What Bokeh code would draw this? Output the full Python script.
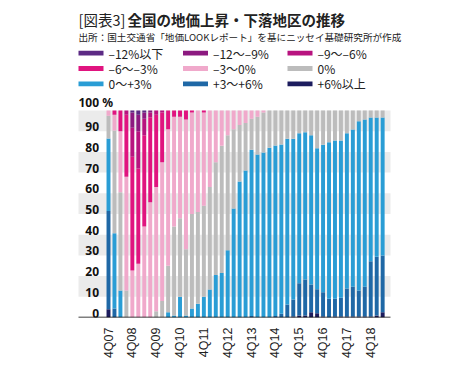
import math
from bokeh.plotting import figure
from bokeh.models import ColumnDataSource, Range1d, FixedTicker
from bokeh.embed import file_html
from bokeh.resources import INLINE
from bokeh.core.properties import value

# ---------------- data ----------------
quarters = ["4Q07",
            "1Q08", "2Q08", "3Q08", "4Q08",
            "1Q09", "2Q09", "3Q09", "4Q09",
            "1Q10", "2Q10", "3Q10", "4Q10",
            "1Q11", "2Q11", "3Q11", "4Q11",
            "1Q12", "2Q12", "3Q12", "4Q12",
            "1Q13", "2Q13", "3Q13", "4Q13",
            "1Q14", "2Q14", "3Q14", "4Q14",
            "1Q15", "2Q15", "3Q15", "4Q15",
            "1Q16", "2Q16", "3Q16", "4Q16",
            "1Q17", "2Q17", "3Q17", "4Q17",
            "1Q18", "2Q18", "3Q18", "4Q18",
            "1Q19", "2Q19"]

up6 = [4, 0, 0, 0, 0, 0, 0, 0, 0, 0,
       0, 0, 0, 0, 0, 0, 0, 0, 0, 0,
       0, 0, 0, 0, 0, 0, 0, 0, 0, 0,
       0, 0.5, 1, 1, 2.5, 2, 0.5, 0, 0.5, 0.5,
       0.5, 0.5, 0.5, 0.5, 0.5, 1, 2.5]
up3_6 = [47.5, 4.3, 0, 0, 0, 0, 0, 0, 0, 0,
         0, 0, 0, 0, 0, 0, 0, 0, 0, 0,
         0, 0, 0, 0, 0.7, 0, 0, 0, 0.7, 1.8,
         6.3, 8.2, 15.5, 17.4, 13.5, 11.7, 11.7, 9, 8.5, 9,
         13.5, 14.3, 12.6, 14.3, 26.7, 28.3, 27.5]
up0_3 = [35, 36.4, 13, 0, 0, 0, 0, 0, 0, 0,
         2.5, 1, 10, 1, 4.3, 6.7, 10, 13.5, 20.5, 21.5,
         32.5, 52.6, 65.7, 71, 80.3, 78.7, 79.7, 82, 82.4, 81.8,
         80, 77.6, 72.5, 71.1, 72, 68.1, 71.2, 75.7, 76.5, 76,
         75, 76, 81.7, 80.8, 69.4, 67.3, 66.6]
flat0 = [11, 49.6, 47.5, 13, 0, 0, 0, 0, 3, 8,
         22.5, 43, 38, 32, 45.7, 44.3, 44, 49.5, 54.5, 61.5,
         55.5, 38.4, 27.3, 23, 15, 18.3, 19.3, 18, 16.9, 16.4,
         13.7, 13.7, 11, 10.5, 12, 18.2, 16.6, 15.3, 14.5, 14.5,
         11, 9.2, 5.2, 4.4, 3.4, 3.4, 3.4]
dn0_3 = [2.5, 7.7, 29.5, 55, 22.7, 26, 44, 55.7, 60, 67,
         66, 53, 49, 62.6, 49, 49, 45, 37, 25, 17,
         12, 9, 7, 6, 4, 3, 1, 0, 0, 0,
         0, 0, 0, 0, 0, 0, 0, 0, 0, 0,
         0, 0, 0, 0, 0, 0, 0]
dn3_6 = [0, 2, 10, 30, 55, 46, 44, 41, 35, 24,
         9, 3, 3, 4.4, 1, 0, 1, 0, 0, 0,
         0, 0, 0, 0, 0, 0, 0, 0, 0, 0,
         0, 0, 0, 0, 0, 0, 0, 0, 0, 0,
         0, 0, 0, 0, 0, 0, 0]
dn6_9 = [0, 0, 0, 2, 14, 18, 8, 2.3, 2, 1] + [0] * 37
dn9_12 = [0, 0, 0, 0, 7.3, 8, 3, 1, 0, 0] + [0] * 37
dn12 = [0, 0, 0, 0, 1, 2, 1, 0, 0, 0] + [0] * 37

series_keys = ["up6", "up3_6", "up0_3", "flat0", "dn0_3", "dn3_6", "dn6_9", "dn9_12", "dn12"]
series_labels = ["+6%以上", "+3〜+6%", "0〜+3%", "0%", "–3〜0%", "–6〜–3%", "–9〜–6%", "–12〜–9%", "–12%以下"]
series_colors = ["#1c1c5e", "#1f68a6", "#2a9dd5", "#bcbcbc", "#f0a9cb",
                 "#e0147f", "#b8137f", "#8c1a80", "#5c2a84"]
legend_order = ["dn12", "dn9_12", "dn6_9", "dn3_6", "dn0_3", "flat0", "up0_3", "up3_6", "up6"]

y_ticks = [0, 10, 20, 30, 40, 50, 60, 70, 80, 90]
y_max = 100
label_every = 4

# ---------------- layout (page pixels) ----------------
FONT_JP = "Noto Sans CJK JP"
n = len(quarters)
BAR0_PX, STEP_PX = 108.0, 5.96      # page x of first bar, px per quarter
ZERO_PX, PCT_PX = 317.0, 2.07       # page y of 0 %, px per percent
PAGE_L, PAGE_R, PAGE_T = 0.0, 458.0, 0.0
PLOT_L, PLOT_R = 78.0, 390.0
BOTTOM = 50


def dx(px):
    return (px - BAR0_PX) / STEP_PX


def dy(py):
    return (ZERO_PX - py) / PCT_PX


p = figure(width=int(PAGE_R - PAGE_L), height=int(ZERO_PX - PAGE_T) + BOTTOM,
           x_range=Range1d(dx(PAGE_L), dx(PAGE_R)), y_range=Range1d(0, dy(PAGE_T)),
           output_backend="svg", toolbar_location=None,
           min_border_left=0, min_border_right=0, min_border_top=0, min_border_bottom=BOTTOM)
p.outline_line_color = None
p.yaxis.visible = False
p.grid.visible = False

xl, xr = dx(PLOT_L), dx(PLOT_R)

# alternating background bands
band_b = [t for t in y_ticks if (t // 10) % 2 == 1]
p.quad(left=xl, right=xr, bottom=band_b, top=[b + 10 for b in band_b],
       fill_color="#ebebeb", line_color=None)

# stacked bars
data = dict(x=list(range(n)), up6=up6, up3_6=up3_6, up0_3=up0_3, flat0=flat0,
            dn0_3=dn0_3, dn3_6=dn3_6, dn6_9=dn6_9, dn9_12=dn9_12, dn12=dn12)
src = ColumnDataSource(data)
p.vbar_stack(series_keys, x="x", width=0.66, color=series_colors, line_color=None, source=src)

# baseline
p.segment(x0=[xl], y0=[0], x1=[xr], y1=[0], line_color="#000000", line_width=1.3)

# x axis labels
tick_idx = list(range(0, n, label_every))
p.xaxis.ticker = FixedTicker(ticks=tick_idx)
p.xaxis.major_label_overrides = {i: quarters[i] for i in tick_idx}
p.xaxis.major_label_orientation = math.pi / 2
p.xaxis.major_tick_line_color = None
p.xaxis.minor_tick_line_color = None
p.xaxis.axis_line_color = None
p.xaxis.major_label_standoff = 4
p.xaxis.major_label_text_font = "Liberation Sans"
p.xaxis.major_label_text_font_size = "12.5px"
p.xaxis.major_label_text_color = "#222222"

# y labels
p.text(x=[dx(98.5)] * len(y_ticks), y=y_ticks, text=[str(t) for t in y_ticks],
       text_align="right", text_baseline="bottom", text_font=value("Noto Sans"),
       text_font_style="bold", text_font_size="12px", text_color="#111111")
p.text(x=[xl], y=[y_max], text=[f"{y_max} %"], text_align="left", text_baseline="bottom",
       text_font=value("Noto Sans"), text_font_style="bold", text_font_size="12px",
       text_color="#111111")

# title & source
p.text(x=[dx(78)], y=[dy(19.3)], text=["[図表3]"], text_font=value(FONT_JP),
       text_font_size="14.5px", text_baseline="middle", text_align="left", text_color="#222222")
p.text(x=[dx(127)], y=[dy(19.3)], text=["全国の地価上昇・下落地区の推移"], text_font=value(FONT_JP),
       text_font_style="bold", text_font_size="14.5px", text_baseline="middle",
       text_align="left", text_color="#222222")
p.text(x=[dx(78)], y=[dy(36)], text=["出所：国土交通省「地価LOOKレポート」を基にニッセイ基礎研究所が作成"],
       text_font=value(FONT_JP), text_font_size="9.6px", text_baseline="middle",
       text_align="left", text_color="#222222")

# legend (3 x 3)
lx, ly, lt, lc = [], [], [], []
for k, key in enumerate(legend_order):
    idx = series_keys.index(key)
    col, row = k % 3, k // 3
    lx.append(78 + col * 104.5)
    ly.append(52.7 + row * 15.3)
    lt.append(series_labels[idx])
    lc.append(series_colors[idx])
leg = ColumnDataSource(dict(x0=[dx(v) for v in lx], x1=[dx(v + 25) for v in lx],
                            xt=[dx(v + 30) for v in lx],
                            yb=[dy(v + 2.4) for v in ly], yt=[dy(v - 2.4) for v in ly],
                            y=[dy(v) for v in ly], t=lt, c=lc))
p.quad(left="x0", right="x1", bottom="yb", top="yt", fill_color="c", line_color=None, source=leg)
p.text(x="xt", y="y", text="t", text_font=value(FONT_JP), text_font_size="12px",
       text_baseline="middle", text_align="left", text_color="#222222", source=leg)

open("out.html", "w").write(file_html(p, INLINE))
